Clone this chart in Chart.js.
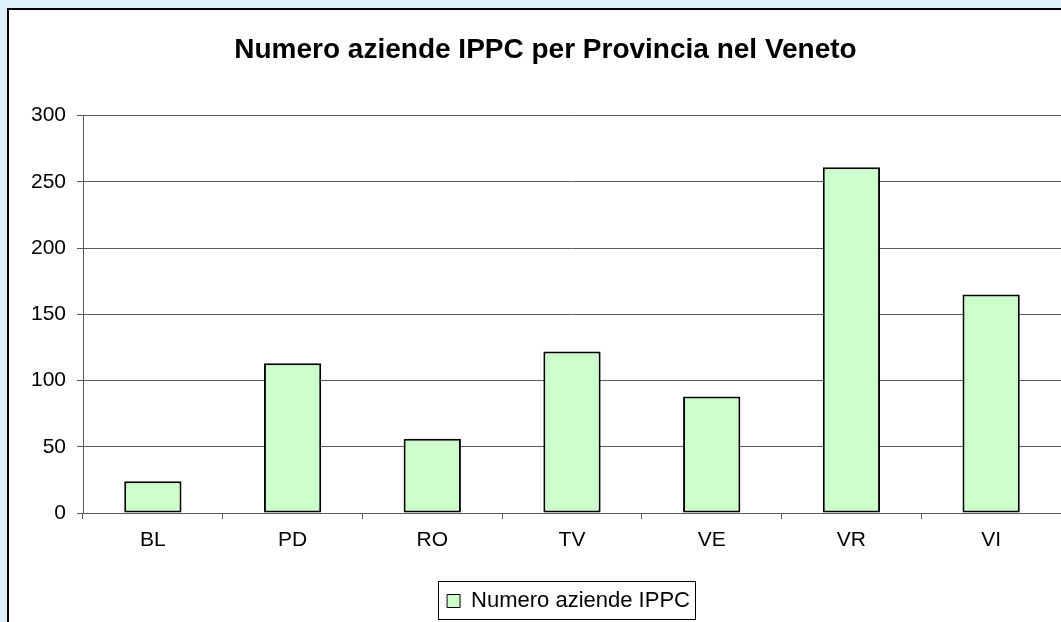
<!DOCTYPE html>
<html>
<head>
<meta charset="utf-8">
<script src="https://cdn.jsdelivr.net/npm/chart.js@4"></script>
<style>
  html, body { margin: 0; padding: 0; overflow: hidden; background: #e0f0fb; }
  #panel {
    position: absolute; left: 7px; top: 8px; width: 1100px; height: 700px;
    background: #fff; border: 2px solid #000; box-sizing: border-box;
  }
  #chart { position: absolute; left: 0; top: 0; }
</style>
</head>
<body>
<div id="panel"></div>
<canvas id="chart" width="1061" height="622"></canvas>
<script>
// province del Veneto, numero aziende IPPC
const province = ['BL', 'PD', 'RO', 'TV', 'VE', 'VR', 'VI'];
const aziende = [24, 113, 56, 122, 88, 261, 165];
const seriesLabel = 'Numero aziende IPPC';
const titleText = 'Numero aziende IPPC per Provincia nel Veneto';

const GRID = '#5a5a5a';
const LEGEND_SHIFT = 23;

Chart.defaults.font.family = "'Liberation Sans', Arial, sans-serif";
Chart.defaults.color = '#000';

// move the legend off the title's centre line and frame it like Excel does
const legendFrame = {
  id: 'legendFrame',
  afterUpdate(chart) {
    const lg = chart.legend;
    if (!lg) return;
    lg.left += LEGEND_SHIFT;
    lg.right += LEGEND_SHIFT;
    lg.legendHitBoxes.forEach(h => { h.left += LEGEND_SHIFT; });
  },
  afterDraw(chart) {
    const h = chart.legend && chart.legend.legendHitBoxes[0];
    if (!h) return;
    const ctx = chart.ctx;
    ctx.save();
    ctx.strokeStyle = '#000';
    ctx.lineWidth = 1;
    ctx.strokeRect(Math.round(h.left - 9) + 0.5, Math.round(h.top - 9) + 0.5,
                   Math.round(h.width + 14), Math.round(h.height + 16));
    ctx.restore();
  }
};

new Chart(document.getElementById('chart'), {
  type: 'bar',
  data: {
    labels: province,
    datasets: [{
      label: seriesLabel,
      data: aziende,
      backgroundColor: '#ccffcc',
      borderColor: '#000',
      borderWidth: 2,
      borderSkipped: false,
      categoryPercentage: 1,
      barPercentage: 0.41,
    }]
  },
  options: {
    responsive: false,
    animation: false,
    layout: { padding: { left: 30, right: 0, top: 0, bottom: 0 } },
    plugins: {
      title: {
        display: true,
        text: titleText,
        font: { size: 28, weight: 'bold' },
        padding: { top: 33, bottom: 49 },
      },
      legend: {
        position: 'bottom',
        labels: {
          font: { size: 22 },
          boxWidth: 13,
          boxHeight: 13,
          padding: 9,
          generateLabels: (chart) => [{
            text: chart.data.datasets[0].label,
            fillStyle: '#ccffcc',
            strokeStyle: '#000',
            lineWidth: 1,
            datasetIndex: 0,
          }],
        },
      },
      tooltip: { enabled: false },
    },
    scales: {
      x: {
        afterFit: (s) => { s.height = 68; },
        grid: { drawOnChartArea: false, drawTicks: true, tickLength: 6, color: GRID },
        border: { display: true, color: GRID },
        ticks: { font: { size: 21 }, padding: 9 },
      },
      y: {
        min: 0,
        max: 300,
        afterFit: (s) => { s.width = 53; },
        grid: { color: GRID, tickLength: 6 },
        border: { display: true, color: GRID },
        ticks: { stepSize: 50, font: { size: 21 }, padding: 11 },
      }
    }
  },
  plugins: [legendFrame]
});
</script>
</body>
</html>
